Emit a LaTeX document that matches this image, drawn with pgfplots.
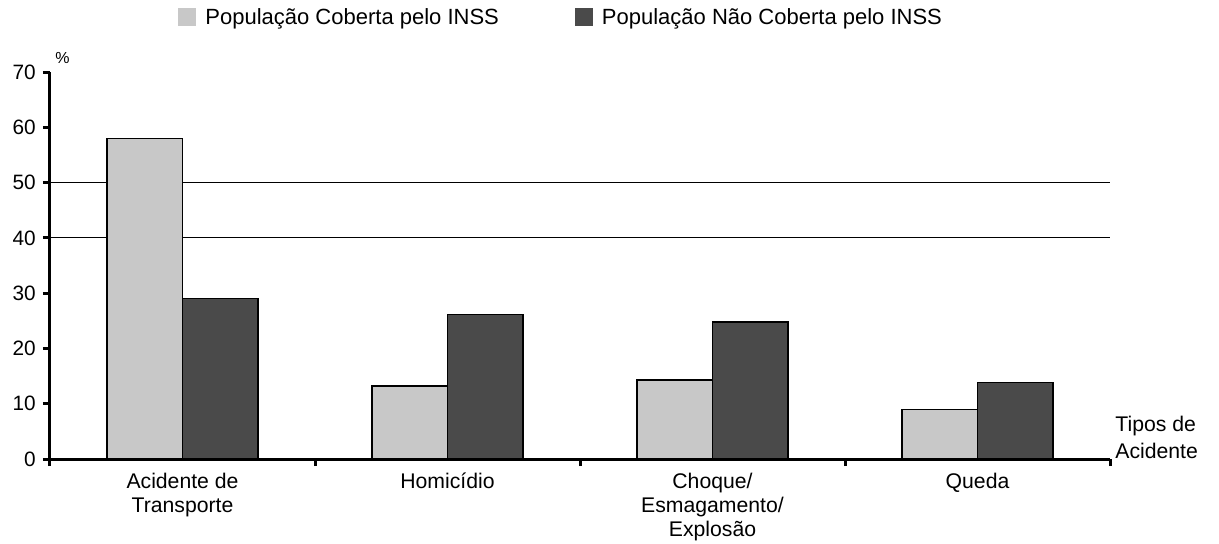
\documentclass[border=0pt]{standalone}
\usepackage{fontspec}
\setmainfont{Liberation Sans}
\usepackage{pgfplots}
\pgfplotsset{compat=1.18}
\definecolor{lightbar}{HTML}{C8C8C8}
\definecolor{darkbar}{HTML}{4A4A4A}
\begin{document}
\fontsize{10.4}{12.2}\selectfont
\begin{tikzpicture}
\useasboundingbox (0,0) rectangle (609.5pt,271.5pt);
\begin{scope}
\clip (0,0) rectangle (603.5pt,271.5pt);
\begin{axis}[
  at={(25pt,42pt)}, anchor=south west,
  scale only axis, width=530pt, height=193.5pt,
  xmin=-0.5, xmax=3.5, ymin=0, ymax=70,
  clip=false,
  axis lines*=left,
  axis line style={line width=1.5pt, black},
  /pgf/number format/assume math mode=true,
  ytick={0,10,...,70},
  tick align=outside, major tick length=3.5pt,
  tick style={line width=1.5pt, black},
  xtick={-0.5,0.5,1.5,2.5,3.5}, xticklabels={},
  extra x ticks={0,1,2,3},
  extra x tick labels={Acidente de\\Transporte, Homicídio, Choque/\\Esmagamento/\\Explosão, Queda},
  extra x tick style={major tick length=0pt, tick label style={align=center, yshift=-3.5pt, font=\fontsize{10.6}{12}\selectfont}},
  extra y ticks={40,50}, extra y tick labels={},
  extra y tick style={grid=major, major grid style={black, line width=0.6pt}, major tick length=0pt},
  ybar=0pt, bar width=37.75pt,
  ylabel={\fontsize{8}{9}\selectfont\%},
  ylabel style={at={(rel axis cs:0,1)}, rotate=-90, anchor=south west, inner sep=0pt, xshift=2.5pt, yshift=4pt},
  legend style={draw=none, fill=none, at={(rel axis cs:0.1208,1)}, anchor=west, yshift=27.5pt, inner sep=0pt,
    legend columns=2, font=\fontsize{11}{12}\selectfont,
    /tikz/every even column/.append style={column sep=38pt},
    nodes={inner sep=0pt, text depth=0pt}, legend cell align=left},
  legend image code/.code={\fill[#1, draw=none] (0pt,-4.5pt) rectangle (9pt,4.5pt);},
  every axis legend/.append style={column sep=4.5pt},
]
\addplot[fill=lightbar, draw=black, line width=0.6pt] coordinates {(0,58.0) (1,13.2) (2,14.3) (3,8.9)};
\addplot[fill=darkbar, draw=black, line width=0.6pt] coordinates {(0,29.1) (1,26.2) (2,24.8) (3,13.8)};
\legend{População Coberta pelo INSS, População Não Coberta pelo INSS}
\node[anchor=south west, align=left, inner sep=0pt, xshift=2.5pt, yshift=0pt, font=\fontsize{10.6}{13.5}\selectfont] at (rel axis cs:1,0) {Tipos de\\Acidente};
\end{axis}
\end{scope}
\end{tikzpicture}
\end{document}
